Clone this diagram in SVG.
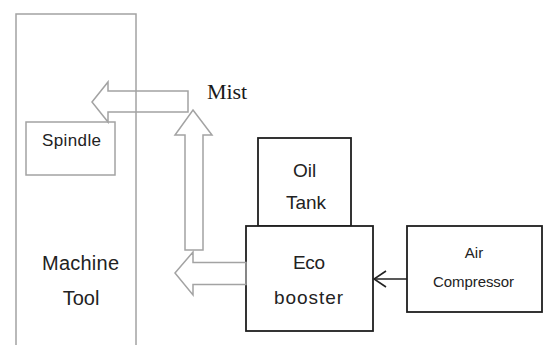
<svg xmlns="http://www.w3.org/2000/svg" width="548" height="345" viewBox="0 0 548 345">
<style>
.g{fill:none;stroke:#a3a3a3;stroke-width:1.5}
.b{fill:#fff;stroke:#1e1e1e;stroke-width:1.8}
.t{font-family:"Liberation Sans",Arial,sans-serif;fill:#222;text-anchor:middle}
.ga{fill:#fff;fill-opacity:0;stroke:#a3a3a3;stroke-width:1.5;stroke-linejoin:miter}
</style>
<defs>
<marker id="open" viewBox="0 0 14 20" refX="13" refY="10" markerWidth="14" markerHeight="20" markerUnits="userSpaceOnUse" orient="auto">
<path d="M1,2 L13,10 L1,18" fill="none" stroke="#222" stroke-width="1.6"/>
</marker>
</defs>
<rect width="548" height="345" fill="#fff"/>
<g id="machine-tool">
<rect class="g" x="16" y="14" width="120" height="345"/>
<text class="t" x="80.5" y="270" font-size="20" textLength="77">Machine</text>
<text class="t" x="81" y="305" font-size="20">Tool</text>
</g>
<g id="spindle">
<rect class="g" x="26" y="122" width="89" height="53"/>
<text class="t" x="71.5" y="146" font-size="17" textLength="59">Spindle</text>
</g>
<g id="oil-tank">
<rect class="b" x="258" y="138" width="93" height="88"/>
<text class="t" x="304.5" y="177" font-size="19">Oil</text>
<text class="t" x="306" y="209" font-size="19" textLength="40">Tank</text>
</g>
<g id="eco-booster">
<rect class="b" x="246" y="226" width="127" height="105"/>
<text class="t" x="309" y="269" font-size="19" textLength="32">Eco</text>
<text class="t" x="308.5" y="304" font-size="19" textLength="69">booster</text>
</g>
<g id="air-compressor">
<rect class="b" x="407" y="226" width="135" height="86"/>
<text class="t" x="474" y="258" font-size="15">Air</text>
<text class="t" x="473.5" y="287" font-size="15" textLength="81">Compressor</text>
</g>
<g id="mist-label">
<text x="207" y="99" font-family="'Liberation Serif','Times New Roman',serif" font-size="22" fill="#1a1a1a" textLength="40">Mist</text>
</g>
<g id="connectors">
<polygon class="ga" points="92,102 108,82 108,91 188,91 188,112 108,112 108,122"/>
<polygon class="ga" points="193,110 212,135 203,135 203,250 185,250 185,135 175,135"/>
<polygon class="ga" points="175,273 193,252 193,262.5 246,262.5 246,284.5 193,284.5 193,295"/>
<line x1="407" y1="279" x2="374" y2="279" stroke="#222" stroke-width="1.6" marker-end="url(#open)"/>
</g>
</svg>
